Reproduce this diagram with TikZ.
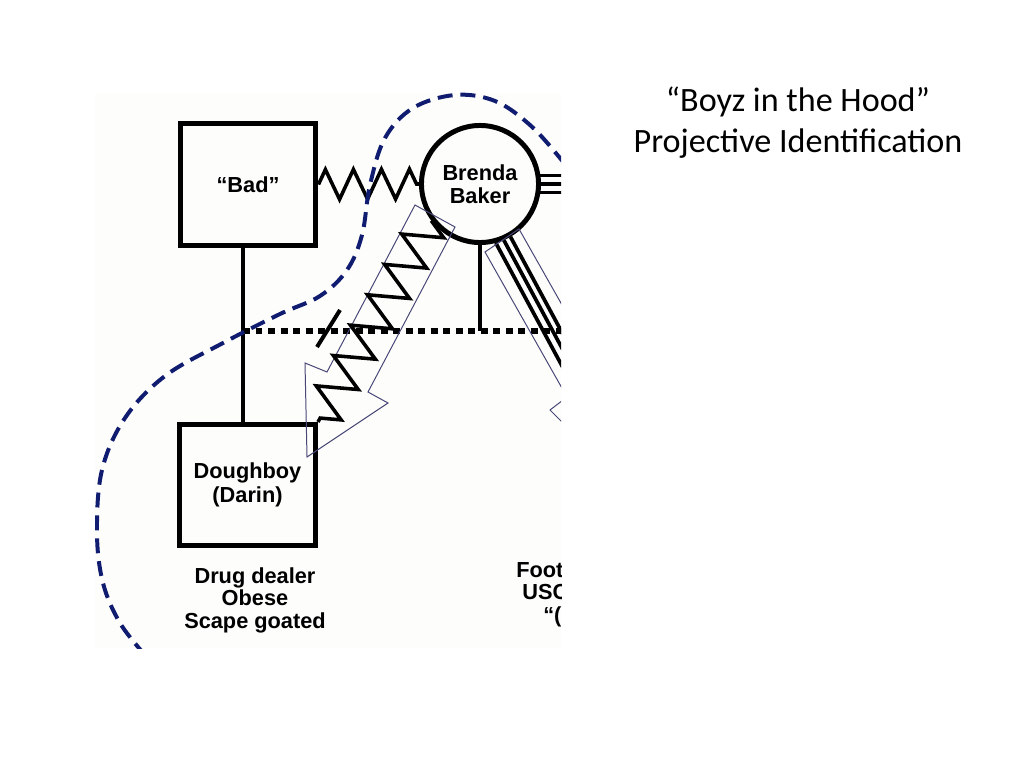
\documentclass[tikz,border=0pt]{standalone}
\usepackage{fontspec}
\setmainfont{Liberation Sans}
\newfontfamily\titlefont{Carlito}
\usetikzlibrary{decorations.pathmorphing}
\definecolor{loopblue}{RGB}{16,28,112}
\definecolor{arrowline}{RGB}{72,72,120}
\definecolor{paper}{RGB}{253,253,251}

\begin{document}
\begin{tikzpicture}[x=0.703125pt, y=-0.703125pt,
		member/.style={draw, line width=3.5pt, inner sep=0pt, align=center,
			font=\bfseries\fontsize{15.3}{16.5}\selectfont},
		male/.style={member, rectangle, minimum width=95.6pt, minimum height=85.1pt},
		female/.style={member, circle, minimum size=82.3pt},
		tie/.style={line width=3.2pt},
		conflict/.style={line width=2.5pt, decorate,
			decoration={zigzag, segment length=19.7pt, amplitude=10.5pt}},
		closeline/.style={line width=2.6pt},
		projection/.style={draw=arrowline, line width=0.7pt, line join=miter},
		caption/.style={font=\bfseries\fontsize{15.3}{15.8}\selectfont, align=center, inner sep=0pt},
		titletext/.style={font=\titlefont\fontsize{24}{28}\selectfont, inner sep=0pt} ]
	\useasboundingbox (0,0) rectangle (1024,768);
	\fill[paper] (95,93) rectangle (561,648);
	\begin{scope}
	\clip (95,93) rectangle (561,648);
	% family
	\node[male] (bad) at (248,184.5) {“Bad”};
	\node[female] (brenda) at (480,184) {Brenda\\Baker};
	\node[male] (dough) at (247.5,485) {Doughboy\\(Darin)};
	\node[caption] (traits) at (255,600) {Drug dealer\\Obese\\Scape goated};
	\node[caption, anchor=base west] (foot1) at (516,577) {Foot};
	\node[caption, anchor=base west] (foot2) at (522,599) {USC};
	\node[caption, anchor=base west] (foot3) at (543,622) {“(};
	% sibling line
	\coordinate (sibL) at (243,331);
	\coordinate (sibR) at (575,331);
	\draw[tie] (sibL |- bad.south) -- (sibL |- dough.north);
	\draw[line width=4.2pt, dash pattern=on 4.9pt off 3.9pt] (sibL) -- (sibR);
	\draw[tie] (brenda.south) -- (brenda.south |- sibL);
	\coordinate (cutA) at (317,347);
	\coordinate (cutB) at (340,310);
	\draw[line width=2.8pt] (cutA) -- (cutB);
	% relationships
	\draw[conflict] (bad.east) -- (brenda.west);
	\foreach \a in {8,0,-8}
		\draw[closeline] (brenda.\a) -- ++(30,0);
	\foreach \a in {-75,-67,-60}
		\draw[closeline] (brenda.\a) -- ++(70,130);
	% projection arrows
	\draw[projection] (415,205) -- (455,227) -- (368,392) -- (388,403)
		-- (307,457) -- (305,363) -- (327,372) -- cycle;
	\draw[projection] (578,438) -- (550,410) -- (567,397) -- (485,252)
		-- (519,229) -- (600,372);
	\draw[line width=2.5pt, decorate,
		decoration={zigzag, segment length=24.5pt, amplitude=13.5pt}]
		(brenda.217) -- (dough.north east);
	% boundary
	\draw[loopblue, line width=2.8pt, dash pattern=on 10.5pt off 5.6pt]
		plot[smooth, tension=0.6] coordinates {(145,655) (120,623) (103,583)
		(97,533) (102,470) (125,418) (165,376) (223,343) (280,314) (320,296)
		(347,270) (362,235) (370,185) (385,138) (413,108) (455,95) (495,101)
		(530,125) (560,158) (575,178)};
	\end{scope}
	% title
	\node[titletext, anchor=base] (title1) at (798,112) {“Boyz in the Hood”};
	\node[titletext, anchor=base] (title2) at (798,153) {Projective Identification};
\end{tikzpicture}
\end{document}
